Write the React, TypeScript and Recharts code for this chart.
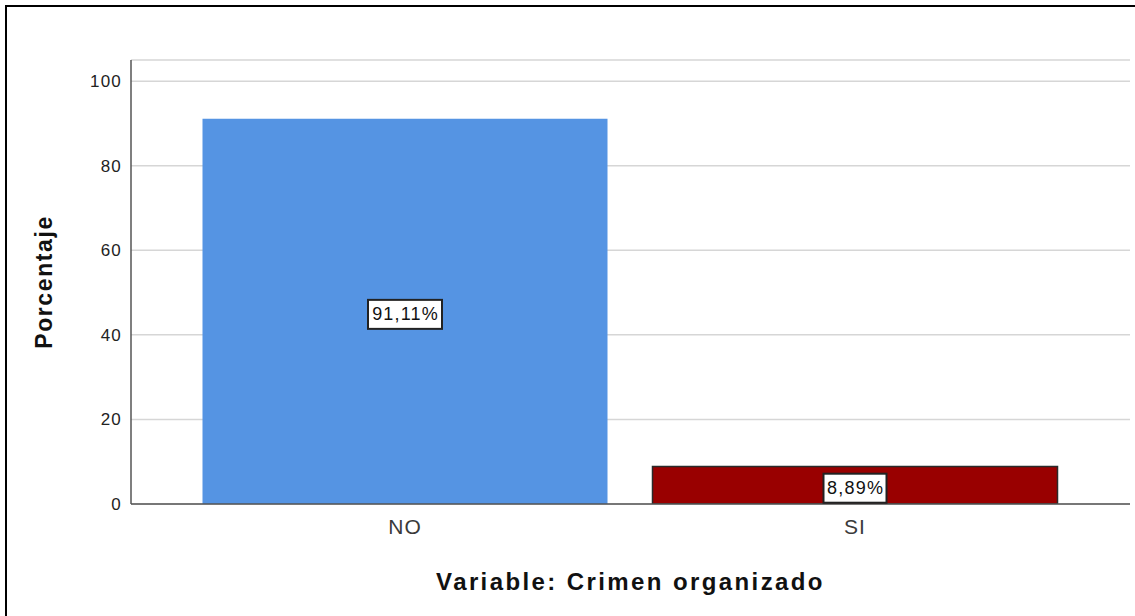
import React from "react";
import {
  BarChart,
  Bar,
  XAxis,
  YAxis,
  CartesianGrid,
  Cell,
  LabelList,
} from "recharts";

const categories = ["NO", "SI"];
const percentages = [91.11, 8.89];
const barColors = ["#5594e3", "#990000"];
const yTicks = [0, 20, 40, 60, 80, 100];

const chartData = categories.map((name, i) => ({ name, value: percentages[i] }));

const FONT = "'Liberation Sans', Arial, Helvetica, sans-serif";

function BarValueLabel(props: any) {
  const { x, y, width, height, value } = props;
  const text = `${Number(value).toFixed(2).replace(".", ",")}%`;
  const cx = x + width / 2;
  const cy = y + height / 2 + 3;
  const boxW = text.length * 11 + 8;
  const boxH = 29;
  return (
    <g>
      <rect
        x={cx - boxW / 2}
        y={cy - boxH / 2}
        width={boxW}
        height={boxH}
        fill="#ffffff"
        stroke="#222"
        strokeWidth={2}
      />
      <text
        x={cx + 0.6}
        y={cy}
        textAnchor="middle"
        dominantBaseline="central"
        fontFamily={FONT}
        fontSize={18}
        letterSpacing={1.2}
        fill="#111"
      >
        {text}
      </text>
    </g>
  );
}

export default function App() {
  return (
    <div
      style={{
        position: "fixed",
        left: 0,
        top: 0,
        width: 1135,
        height: 616,
        background: "#fff",
      }}
    >
      <div
        style={{
          position: "absolute",
          left: 5,
          top: 5,
          right: 0,
          bottom: 0,
          borderLeft: "2px solid #000",
          borderTop: "2px solid #000",
        }}
      />
      <BarChart
        width={1135}
        height={616}
        data={chartData}
        margin={{ top: 60, right: 5, bottom: 0, left: 0 }}
        barCategoryGap="5%"
        style={{ position: "absolute", left: 0, top: 0 }}
      >
        <CartesianGrid
          vertical={false}
          stroke="#d6d6d6"
          strokeWidth={1.5}
        />
        <XAxis
          dataKey="name"
          height={112}
          padding={{ left: 49, right: 50 }}
          stroke="#555"
          strokeWidth={1.5}
          tickLine={false}
          tickSize={0}
          tickMargin={15}
          tick={{
            fill: "#3a3a3a",
            fontSize: 21,
            fontFamily: FONT,
            letterSpacing: 1,
          }}
          label={{
            content: ({ viewBox }: any) => (
              <text
                x={viewBox.x + viewBox.width / 2}
                y={590}
                textAnchor="middle"
                fontFamily={FONT}
                fontSize={24}
                fontWeight="bold"
                letterSpacing={2.4}
                fill="#111"
              >
                Variable: Crimen organizado
              </text>
            ),
          }}
        />
        <YAxis
          width={131}
          domain={[0, 105]}
          ticks={yTicks}
          allowDataOverflow
          stroke="#555"
          strokeWidth={1.5}
          tickLine={false}
          tickSize={0}
          tickMargin={9}
          tick={{
            fill: "#222",
            fontSize: 17,
            fontFamily: FONT,
            letterSpacing: 1.2,
          }}
          label={{
            content: ({ viewBox }: any) => {
              const cx = 52;
              const cy = viewBox.y + viewBox.height / 2;
              return (
                <text
                  x={cx}
                  y={cy}
                  transform={`rotate(-90 ${cx} ${cy})`}
                  textAnchor="middle"
                  fontFamily={FONT}
                  fontSize={23}
                  fontWeight="bold"
                  letterSpacing={1.6}
                  fill="#111"
                >
                  Porcentaje
                </text>
              );
            },
          }}
        />
        <Bar dataKey="value" isAnimationActive={false}>
          {chartData.map((_, index) => (
            <Cell
              key={`cell-${index}`}
              fill={barColors[index]}
              stroke={index === 1 ? "#2a2a2a" : "none"}
              strokeWidth={index === 1 ? 1.5 : 0}
            />
          ))}
          <LabelList dataKey="value" content={BarValueLabel} />
        </Bar>
      </BarChart>
    </div>
  );
}
